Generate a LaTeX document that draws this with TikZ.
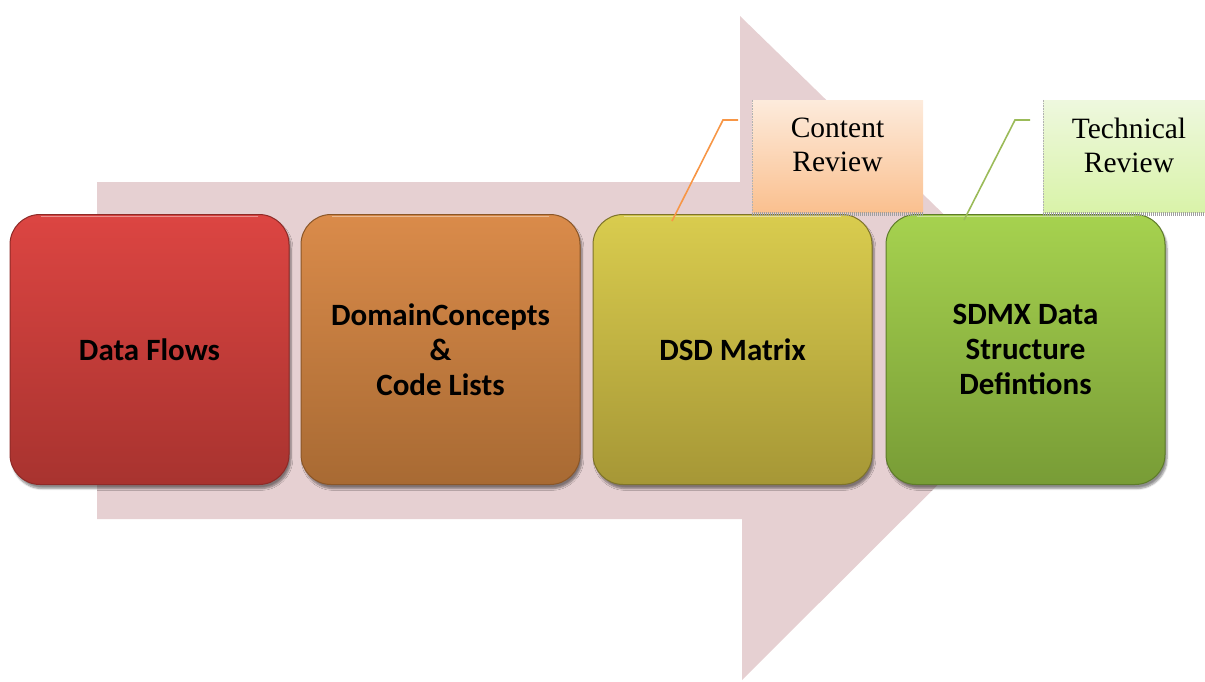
\documentclass[tikz,border=0pt]{standalone}
\usepackage{fontspec}
\setmainfont{Liberation Serif}
\newfontfamily\stagefont{Carlito}
\usetikzlibrary{shadows.blur}

\definecolor{arrowbg}{HTML}{E6D0D2}
\definecolor{redtop}{HTML}{DC4542}
\definecolor{redbot}{HTML}{A8332F}
\definecolor{redrim}{HTML}{8E2A27}
\definecolor{orgtop}{HTML}{DA8B4A}
\definecolor{orgbot}{HTML}{A86A33}
\definecolor{orgrim}{HTML}{8A5628}
\definecolor{yeltop}{HTML}{D9CC4E}
\definecolor{yelbot}{HTML}{A69736}
\definecolor{yelrim}{HTML}{7E732A}
\definecolor{grntop}{HTML}{A6D24F}
\definecolor{grnbot}{HTML}{789C36}
\definecolor{grnrim}{HTML}{5E7B2A}
\definecolor{peachtop}{HTML}{FDEBDC}
\definecolor{peachbot}{HTML}{FAC08F}
\definecolor{limetop}{HTML}{EEF8DE}
\definecolor{limebot}{HTML}{D9F3A9}
\definecolor{orangeline}{HTML}{F79646}
\definecolor{greenline}{HTML}{9BBB59}

\tikzset{
  stage/.style={rounded corners=30pt, minimum width=279pt, minimum height=270pt,
    line width=1pt, align=center, inner sep=0pt,
    font=\stagefont\bfseries\fontsize{31}{35}\selectfont,
    blur shadow={shadow xshift=2pt, shadow yshift=-4pt, shadow blur steps=6,
      shadow opacity=45}},
  note/.style={minimum width=171pt, minimum height=112pt, inner sep=0pt,
    align=center, text depth=22pt, font=\fontsize{29.5}{34}\selectfont},
  notelink/.style={line width=1.6pt},
  notebase/.style={draw=gray!75, line width=4pt, dash pattern=on 1pt off 1pt}
}

\begin{document}
\begin{tikzpicture}[x=1pt,y=-1pt]
\useasboundingbox (0,0) rectangle (1205,681);

% broad background arrow
\fill[arrowbg] (97,182) -- (740,182) -- (740,16) -- (1078,345)
  -- (742,680) -- (742,519) -- (97,519) -- cycle;

% process stages
\node[stage, draw=redrim, top color=redtop, bottom color=redbot] (flows)
  at (149.5,349.5) {Data Flows};
\node[stage, draw=orgrim, top color=orgtop, bottom color=orgbot] (concepts)
  at (440.5,349.5) {DomainConcepts\\\&\\Code Lists};
\node[stage, draw=yelrim, top color=yeltop, bottom color=yelbot] (matrix)
  at (732.5,349.5) {DSD Matrix};
\node[stage, draw=grnrim, top color=grntop, bottom color=grnbot] (dsd)
  at (1025.5,349.5) {SDMX Data\\Structure\\Defintions};

% highlight rims along the top of each stage
\foreach \n/\c in {flows/redtop, concepts/orgtop, matrix/yeltop, dsd/grntop}{
  \draw[\c!60!white, line width=1.5pt, line cap=round]
    ([xshift=32pt,yshift=-2.5pt]\n.north west) -- ([xshift=-32pt,yshift=-2.5pt]\n.north east);
}

% review callouts
\node[note, top color=peachtop, bottom color=peachbot] (content)
  at (837.5,156) {Content\\Review};
\draw[notebase] ([yshift=-2pt]content.south west) -- ([yshift=-2pt]content.south east);
\draw[gray!60, densely dotted, line width=0.6pt] (content.north west) -- (content.south west);

\node[note, minimum width=172pt, top color=limetop, bottom color=limebot] (technical)
  at (1129,156) {Technical\\Review};
\draw[notebase] ([yshift=-2pt]technical.south west) -- ([yshift=-2pt]technical.south east);
\draw[gray!60, densely dotted, line width=0.6pt] (technical.north west) -- (technical.south west);

% callout leaders
\coordinate (contentfoot) at (672,221);
\coordinate (contentknee) at (723,120);
\coordinate (contentend) at (738,120);
\draw[notelink, draw=orangeline] (contentfoot) -- (contentknee) -- (contentend);

\coordinate (techfoot) at (964,220);
\coordinate (techknee) at (1015,120);
\coordinate (techend) at (1030,120);
\draw[notelink, draw=greenline] (techfoot) -- (techknee) -- (techend);
\end{tikzpicture}
\end{document}
